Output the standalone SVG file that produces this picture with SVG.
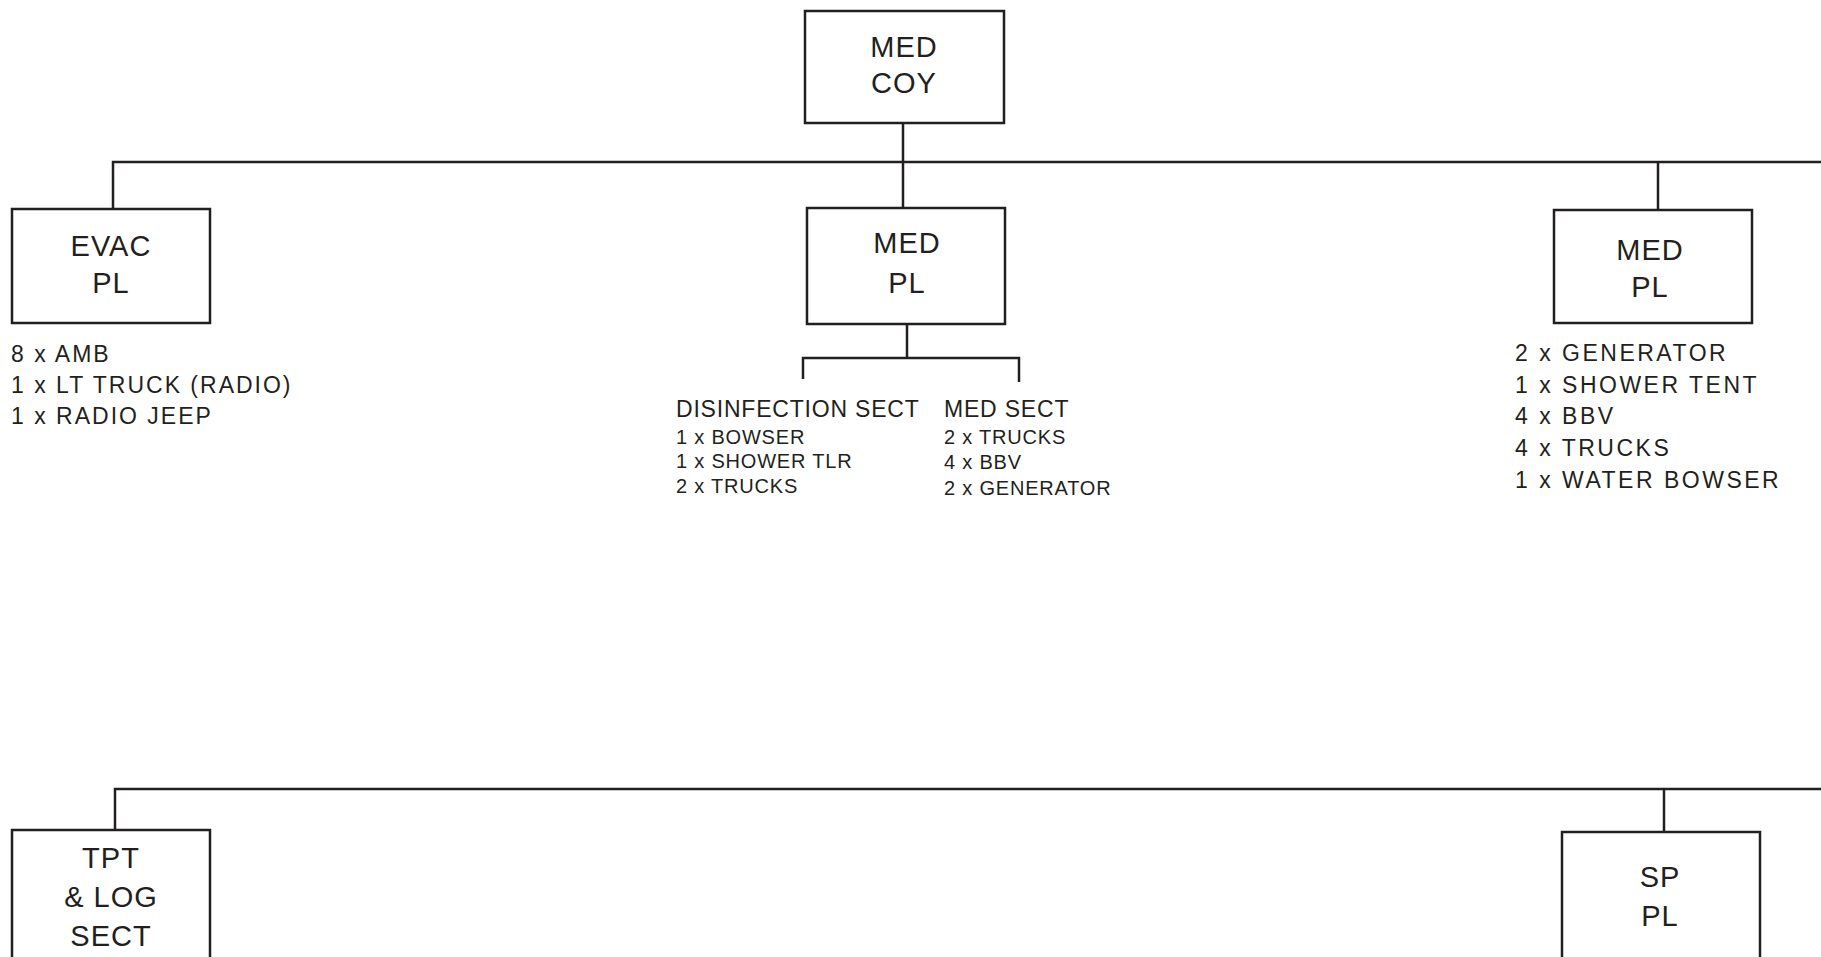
<svg xmlns="http://www.w3.org/2000/svg" width="1821" height="957" viewBox="0 0 1821 957">
<style>
.box{fill:#fff;stroke:#231f20;stroke-width:2.5}
.ln{fill:none;stroke:#231f20;stroke-width:2.5}
.lbl{font-family:"Liberation Sans",Arial,sans-serif;font-size:29px;fill:#231f20;text-anchor:middle;letter-spacing:1px}
.lst{font-family:"Liberation Sans",Arial,sans-serif;font-size:23px;fill:#231f20;letter-spacing:2px}
.lst2{font-family:"Liberation Sans",Arial,sans-serif;font-size:23px;fill:#231f20;letter-spacing:2.5px}
.hd{font-family:"Liberation Sans",Arial,sans-serif;font-size:23px;fill:#231f20;letter-spacing:0.8px}
.sm{font-family:"Liberation Sans",Arial,sans-serif;font-size:20px;fill:#231f20;letter-spacing:0.8px}
</style>
<rect width="1821" height="957" fill="#fff"/>
<g id="connectors">
<path class="ln" d="M903 123V208"/>
<path class="ln" d="M113 209V162H1821"/>
<path class="ln" d="M1658 162V210"/>
<path class="ln" d="M907 324V358"/>
<path class="ln" d="M803 379V358H1019V382"/>
<path class="ln" d="M115 830V789H1821"/>
<path class="ln" d="M1664 789V832"/>
</g>
<g id="med-coy">
<rect class="box" x="805" y="11" width="199" height="112"/>
<text class="lbl" x="904" y="57">MED</text>
<text class="lbl" x="904" y="93">COY</text>
</g>
<g id="evac-pl">
<rect class="box" x="12" y="209" width="198" height="114"/>
<text class="lbl" x="111" y="256">EVAC</text>
<text class="lbl" x="111" y="293">PL</text>
<text class="lst" x="11" y="362">8 x AMB</text>
<text class="lst" x="11" y="393">1 x LT TRUCK (RADIO)</text>
<text class="lst" x="11" y="424">1 x RADIO JEEP</text>
</g>
<g id="med-pl-1">
<rect class="box" x="807" y="208" width="198" height="116"/>
<text class="lbl" x="907" y="253">MED</text>
<text class="lbl" x="907" y="293">PL</text>
</g>
<g id="disinfection-sect">
<text class="hd" x="676" y="417">DISINFECTION SECT</text>
<text class="sm" x="676" y="444">1 x BOWSER</text>
<text class="sm" x="676" y="468">1 x SHOWER TLR</text>
<text class="sm" x="676" y="493">2 x TRUCKS</text>
</g>
<g id="med-sect">
<text class="hd" x="944" y="417">MED SECT</text>
<text class="sm" x="944" y="444">2 x TRUCKS</text>
<text class="sm" x="944" y="469">4 x BBV</text>
<text class="sm" x="944" y="495">2 x GENERATOR</text>
</g>
<g id="med-pl-2">
<rect class="box" x="1554" y="210" width="198" height="113"/>
<text class="lbl" x="1650" y="260">MED</text>
<text class="lbl" x="1650" y="297">PL</text>
<text class="lst2" x="1515" y="361">2 x GENERATOR</text>
<text class="lst2" x="1515" y="393">1 x SHOWER TENT</text>
<text class="lst2" x="1515" y="424">4 x BBV</text>
<text class="lst2" x="1515" y="456">4 x TRUCKS</text>
<text class="lst2" x="1515" y="488">1 x WATER BOWSER</text>
</g>
<g id="tpt-log-sect">
<rect class="box" x="12" y="830" width="198" height="140"/>
<text class="lbl" x="111" y="868">TPT</text>
<text class="lbl" x="111" y="907">&amp; LOG</text>
<text class="lbl" x="111" y="946">SECT</text>
</g>
<g id="sp-pl">
<rect class="box" x="1562" y="832" width="198" height="140"/>
<text class="lbl" x="1660" y="887">SP</text>
<text class="lbl" x="1660" y="926">PL</text>
</g>
</svg>
